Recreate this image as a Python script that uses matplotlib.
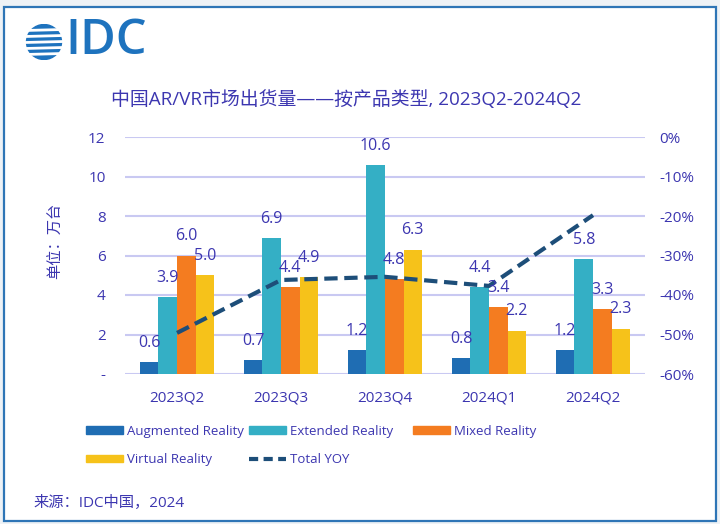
import numpy as np
import matplotlib
matplotlib.use("Agg")
import matplotlib.pyplot as plt
from matplotlib.patches import Rectangle, Circle, Patch
from matplotlib.lines import Line2D

plt.rcParams['font.family'] = ['Open Sans', 'Noto Sans CJK SC', 'DejaVu Sans']

# ---------------- data ----------------
quarters = ['2023Q2', '2023Q3', '2023Q4', '2024Q1', '2024Q2']
series_names = ['Augmented Reality', 'Extended Reality', 'Mixed Reality', 'Virtual Reality']
ar = [0.6, 0.7, 1.2, 0.8, 1.2]
xr = [3.9, 6.9, 10.6, 4.4, 5.8]
mr = [6.0, 4.4, 4.8, 3.4, 3.3]
vr = [5.0, 4.9, 6.3, 2.2, 2.3]
total_yoy = [-49.6, -36.2, -35.4, -37.7, -19.8]
left_ticks = [0, 2, 4, 6, 8, 10, 12]
left_tick_labels = ['-', '2', '4', '6', '8', '10', '12']
right_ticks = [0, -10, -20, -30, -40, -50, -60]
right_tick_labels = ['0%', '-10%', '-20%', '-30%', '-40%', '-50%', '-60%']
title = '中国AR/VR市场出货量——按产品类型, 2023Q2-2024Q2'
ylabel = '单位：万台'
source = '来源：IDC中国，2024'

colors = ['#1F6DB3', '#34AFC5', '#F47C20', '#F6C21A']
line_color = '#1D4E79'
text_color = '#3C36B0'
grid_color = '#C9C9F2'

W, H = 720, 524
fig = plt.figure(figsize=(W / 100, H / 100), dpi=100)
fig.patch.set_facecolor('#EEF2F6')

# frame
fig.patches.append(Rectangle((4 / W, 3 / H), 712 / W, 514 / H, transform=fig.transFigure,
                             facecolor='white', edgecolor='#2E75B6', lw=1.6, zorder=-10))

# ---------------- logo ----------------
gax = fig.add_axes([25 / W, 1 - 60 / H, 38 / W, 36 / H])
gax.set_xlim(0, 38)
gax.set_ylim(0, 36)
gax.axis('off')
gax.add_patch(Circle((19, 18), 17.5, color='#1E73BE'))
for yy in [5.5, 11.5, 17.5, 23.5, 29.5]:
    gax.plot([0, 38], [yy, yy + 1.0], color='white', lw=2.0, solid_capstyle='butt')
fig.text(65 / W, 1 - 42 / H, 'IDC', fontsize=35, color='#1E73BE', va='center', ha='left',
         family='Open Sans', weight='semibold')

# ---------------- main axes ----------------
ax = fig.add_axes([125 / W, 150 / H, 520 / W, 237 / H])
x = np.arange(len(quarters))
bw = 0.178
data = [ar, xr, mr, vr]
for i, (vals, c, name) in enumerate(zip(data, colors, series_names)):
    ax.bar(x + (i - 1.5) * bw, vals, width=bw, color=c, label=name, zorder=2)

ax.set_xlim(-0.5, len(quarters) - 0.5)
ax.set_ylim(0, 12)
ax.set_yticks(left_ticks)
ax.set_yticklabels(left_tick_labels)
ax.set_xticks(x)
ax.set_xticklabels(quarters)
ax.grid(axis='y', color=grid_color, lw=1.5, zorder=0)
ax.set_axisbelow(True)
for s in ax.spines.values():
    s.set_visible(False)
ax.tick_params(axis='y', length=0, pad=14, labelsize=11, labelcolor=text_color)
ax.tick_params(axis='x', length=0, pad=12, labelsize=11, labelcolor=text_color)

ax2 = ax.twinx()
ax2.set_ylim(-60, 0)
ax2.set_yticks(right_ticks)
ax2.set_yticklabels(right_tick_labels)
for s in ax2.spines.values():
    s.set_visible(False)
ax2.tick_params(axis='y', length=0, pad=10, labelsize=11, labelcolor=text_color)
ax2.plot(x, total_yoy, color=line_color, lw=3, dashes=(3.2, 1.6), label='Total YOY', zorder=3)

for i, vals in enumerate(data):
    for xi, v in zip(x, vals):
        ax2.annotate(f'{v:.1f}', xy=(xi + (i - 1.5) * bw, v), xycoords=ax.transData,
                     xytext=(0, 8), textcoords='offset points', ha='center', va='bottom',
                     fontsize=11.5, color=text_color, zorder=5)

# ---------------- texts ----------------
fig.text(346 / W, 1 - 100 / H, title, ha='center', va='center', fontsize=13.6, color=text_color)
fig.text(57 / W, 1 - 241 / H, ylabel, rotation=90, ha='center', va='center', fontsize=11,
         color=text_color)
fig.text(33 / W, 1 - 503 / H, source, ha='left', va='center', fontsize=11, color=text_color)

# ---------------- legend (three columns) ----------------
hdl = [Patch(color=c) for c in colors]
yoy_h = Line2D([], [], color=line_color, lw=3, dashes=(2.2, 1.3))
leg_kw = dict(frameon=False, fontsize=9.5, labelcolor=text_color, handlelength=2.8,
              handleheight=0.55, handletextpad=0.3, labelspacing=1.15, borderpad=0,
              borderaxespad=0, loc='upper left')
cols = [([hdl[0], hdl[3]], [series_names[0], series_names[3]], 86),
        ([hdl[1], yoy_h], [series_names[1], 'Total YOY'], 249),
        ([hdl[2]], [series_names[2]], 413)]
for handles, labels, px in cols:
    lg = fig.legend(handles, labels, bbox_to_anchor=(px / W, 1 - 425 / H), **leg_kw)

fig.savefig('out.png', dpi=100, facecolor=fig.get_facecolor())
